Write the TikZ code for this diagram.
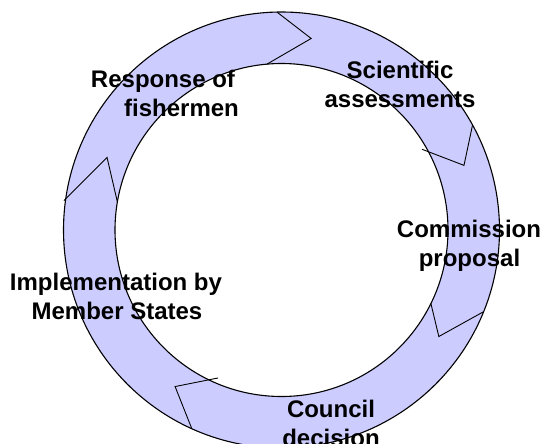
\documentclass[tikz,border=0pt]{standalone}
\usepackage{fontspec}
\setmainfont{Liberation Sans}
\usetikzlibrary{calc}
\definecolor{ringfill}{RGB}{204,204,255}
\tikzset{
  ringline/.style={draw=black,line width=1.1pt},
  chevron/.style={draw=black,line width=0.9pt,line join=miter},
  lbl/.style={anchor=base,inner sep=0pt,font=\fontsize{24}{29}\selectfont\bfseries,text=black}
}
\begin{document}
\begin{tikzpicture}[x=1pt,y=-1pt]
\useasboundingbox (0,0) rectangle (541,444);
\clip (0,0) rectangle (541,444);
\coordinate (c) at (281.5,230);
% ring
\fill[ringfill,even odd rule] (c) circle (218) (c) circle (166.5);
\draw[ringline] (c) circle (218);
\draw[ringline] (c) circle (166.5);
% chevrons (arrow heads, clockwise)
\coordinate (o1) at ($(c)+(-91.2:218)$);
\coordinate (t1) at ($(c)+(-81.2:193.8)$);
\coordinate (i1) at ($(c)+(-95.0:166.5)$);
\draw[chevron] (o1) -- (t1) -- (i1);
\coordinate (o2) at ($(c)+(-28.8:218)$);
\coordinate (t2) at ($(c)+(-19.5:193.6)$);
\coordinate (i2) at ($(c)+(-29.9:162)$);
\draw[chevron] (o2) -- (t2) -- (i2);
\coordinate (i3) at ($(c)+(26.2:166.5)$);
\coordinate (t3) at ($(c)+(34.1:190)$);
\coordinate (o3) at ($(c)+(22.0:218)$);
\draw[chevron] (i3) -- (t3) -- (o3);
\coordinate (i4) at ($(c)+(-246.8:161)$);
\coordinate (t4) at ($(c)+(-235.8:189.3)$);
\coordinate (o4) at ($(c)+(-245.7:218)$);
\draw[chevron] (i4) -- (t4) -- (o4);
\coordinate (o5) at ($(c)+(-172.3:219.5)$);
\coordinate (t5) at ($(c)+(-157.4:189)$);
\coordinate (i5) at ($(c)+(-170.3:166.5)$);
\draw[chevron] (o5) -- (t5) -- (i5);
% labels
\node[lbl] (sci1) at (400,78) {Scientific};
\node[lbl] (sci2) at (400,107) {assessments};
\node[lbl] (com1) at (469,237) {Commission};
\node[lbl] (com2) at (469.5,266) {proposal};
\node[lbl] (cou1) at (331,417) {Council};
\node[lbl] (cou2) at (331,446) {decision};
\node[lbl] (imp1) at (116,290) {Implementation by};
\node[lbl] (imp2) at (117,319) {Member States};
\node[lbl] (res1) at (163,88) {Response of};
\node[lbl] (res2) at (181.5,117) {fishermen};
\end{tikzpicture}
\end{document}
